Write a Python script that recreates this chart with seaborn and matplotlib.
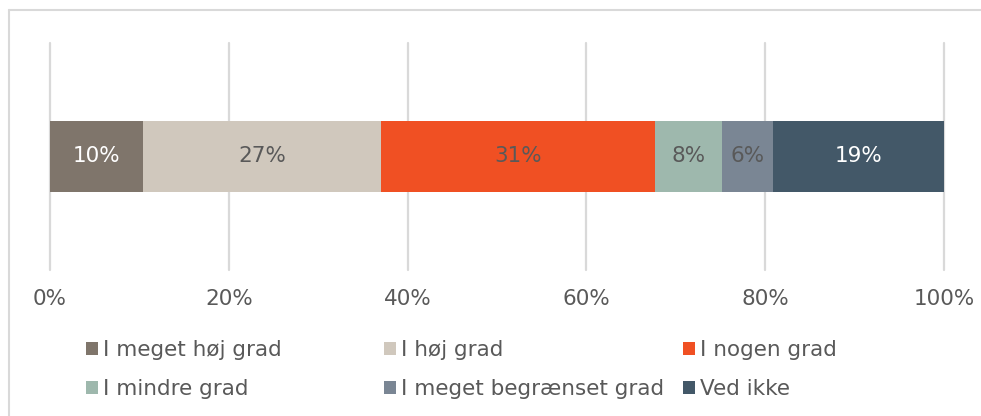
import numpy as np
import pandas as pd
import seaborn as sns
import matplotlib.pyplot as plt
from matplotlib.lines import Line2D
from matplotlib.patches import Patch

categories = ["I meget høj grad", "I høj grad", "I nogen grad",
              "I mindre grad", "I meget begrænset grad", "Ved ikke"]
values = [10.4, 26.6, 30.7, 7.5, 5.7, 19.1]
labels = ["10%", "27%", "31%", "8%", "6%", "19%"]
colors = ["#7F756B", "#D0C8BD", "#F05023", "#9EB8AD", "#7A8694", "#435868"]
label_colors = ["white", "#595959", "#595959", "#595959", "#595959", "white"]
ticks = [0, 20, 40, 60, 80, 100]
tick_labels = ["0%", "20%", "40%", "60%", "80%", "100%"]

sns.set_theme(style="white")
plt.rcParams['font.family'] = ['DejaVu Sans']

W, H = 981, 416
fig = plt.figure(figsize=(W / 100, H / 100), dpi=100)
ax = fig.add_axes([50 / W, 1 - 270 / H, (944 - 50) / W, (270 - 43) / H])

cum = np.cumsum(values)
df = pd.DataFrame({"cat": categories, "cum": cum, "grp": ["row"] * len(values)})
# draw cumulative bars from largest to smallest so they stack visually
for i in range(len(values) - 1, -1, -1):
    sns.barplot(data=df.iloc[[i]], x="cum", y="grp", orient="h",
                color=colors[i], width=0.317, ax=ax, saturation=1,
                edgecolor="none", linewidth=0)

mids = cum - np.array(values) / 2
for m, lab, c in zip(mids, labels, label_colors):
    ax.text(m, 0, lab, ha="center", va="center", fontsize=15.5, color=c)

ax.set_xlim(0, 100)
ax.set_ylim(0.5, -0.5)
ax.set_xticks(ticks)
ax.set_xticklabels(tick_labels, fontsize=15.5, color="#595959")
ax.set_yticks([])
ax.set_xlabel("")
ax.set_ylabel("")
ax.tick_params(axis="x", length=0, pad=14)
ax.grid(axis="x", color="#D9D9D9", linewidth=1.6)
ax.set_axisbelow(True)
for gl in ax.get_xgridlines():
    gl.set_clip_on(False)
for s in ax.spines.values():
    s.set_visible(False)

# outer frame (top and left)
fig.add_artist(Line2D([9 / W, 9 / W], [0, 1 - 10 / H], color="#D9D9D9",
                      linewidth=1.5, transform=fig.transFigure))
fig.add_artist(Line2D([9 / W, 1], [1 - 10 / H, 1 - 10 / H], color="#D9D9D9",
                      linewidth=1.5, transform=fig.transFigure))

handles = [Patch(facecolor=c, edgecolor="none") for c in colors]
col_x = [86, 384, 683]
for k in range(3):
    idx = [k, k + 3]
    fig.legend([handles[j] for j in idx], [categories[j] for j in idx],
               loc="upper left", bbox_to_anchor=(col_x[k] / W, 1 - 340 / H),
               bbox_transform=fig.transFigure, frameon=False,
               fontsize=15.5, labelcolor="#595959", handlelength=0.55,
               handleheight=0.55, handletextpad=0.25, borderpad=0,
               borderaxespad=0, labelspacing=0.9)

fig.savefig("out.png", dpi=100)
